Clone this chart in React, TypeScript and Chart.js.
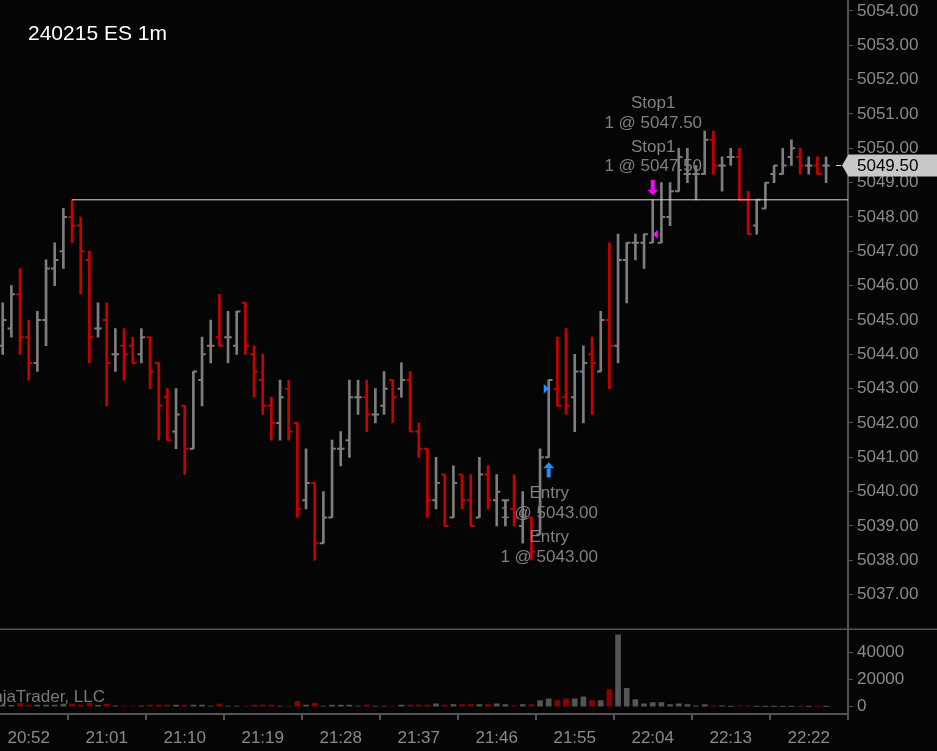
import React, { useEffect, useRef } from "react";
import { Chart, registerables } from "chart.js";

Chart.register(...registerables);

// ---------- DATA ----------
const opens = [5044.25,5044.75,5045.75,5044.50,5043.75,5045.00,5046.50,5047.00,5048.00,5047.75,
5046.75,5044.75,5045.00,5044.00,5044.25,5044.25,5044.00,5044.50,5043.75,5042.75,
5041.75,5042.50,5041.25,5043.25,5044.25,5044.50,5044.50,5044.25,5045.50,5044.00,
5043.25,5042.50,5042.00,5043.00,5042.00,5039.75,5040.25,5038.50,5039.25,5041.25,
5041.50,5042.75,5042.75,5042.25,5042.50,5043.25,5043.00,5043.25,5041.75,5041.25,
5039.75,5040.50,5039.25,5040.50,5039.75,5039.25,5040.50,5039.75,5039.75,5039.50,
5039.00,5039.25,5038.75,5041.00,5043.00,5042.75,5042.75,5043.50,5044.00,5043.50,
5045.00,5044.25,5046.75,5047.25,5047.25,5047.25,5047.25,5048.00,5048.75,5049.25,
5049.25,5049.25,5050.25,5049.50,5049.75,5049.75,5048.50,5047.75,5048.25,5049.25,
5049.25,5049.75,5049.75,5049.50,5049.50,5049.50];

const highs = [5045.50,5046.00,5046.50,5045.00,5045.25,5046.75,5047.25,5048.25,5048.50,5048.00,
5047.00,5045.50,5045.50,5044.75,5044.75,5044.50,5044.75,5044.50,5043.75,5043.00,
5043.00,5042.50,5043.50,5044.50,5045.00,5045.75,5045.25,5045.25,5045.50,5044.25,
5044.00,5042.75,5043.25,5043.25,5042.00,5041.25,5040.25,5040.00,5041.50,5041.75,
5043.25,5043.25,5043.25,5043.00,5043.50,5043.25,5043.75,5043.50,5042.00,5041.25,
5041.00,5040.50,5040.75,5040.50,5040.50,5041.00,5040.75,5040.50,5039.75,5040.50,
5040.00,5039.25,5041.25,5043.25,5044.50,5044.75,5044.00,5044.25,5044.50,5045.25,
5047.25,5047.50,5047.25,5047.50,5047.50,5048.50,5049.00,5049.00,5050.00,5050.00,
5049.50,5050.50,5050.50,5049.75,5050.00,5050.00,5048.75,5048.50,5049.00,5049.50,
5050.00,5050.25,5050.00,5049.75,5049.75,5049.75];

const lows = [5044.00,5044.50,5044.00,5043.25,5043.50,5044.25,5046.00,5046.50,5047.25,5045.75,
5043.75,5044.50,5042.50,5043.50,5043.25,5043.75,5043.75,5043.00,5041.50,5041.50,
5041.25,5040.50,5041.25,5042.50,5043.75,5044.25,5043.75,5044.00,5044.00,5042.75,
5042.25,5041.50,5041.50,5041.50,5039.25,5039.50,5038.00,5038.50,5039.25,5040.75,
5041.00,5042.25,5041.75,5042.00,5042.25,5042.00,5042.75,5041.75,5041.00,5039.25,
5039.50,5039.00,5039.25,5039.50,5039.00,5039.25,5039.50,5039.00,5039.00,5039.00,
5038.50,5038.00,5038.75,5041.00,5042.50,5042.25,5041.75,5042.00,5042.25,5043.50,
5043.00,5043.75,5045.50,5046.75,5046.50,5047.25,5047.25,5047.75,5048.75,5049.00,
5048.50,5049.25,5049.25,5048.75,5049.50,5048.50,5047.50,5047.50,5048.25,5049.00,
5049.25,5049.50,5049.25,5049.25,5049.25,5049.00];

const closes = [5045.00,5045.75,5044.50,5043.75,5045.00,5046.50,5046.75,5048.00,5047.75,5047.00,
5044.50,5044.75,5043.75,5044.00,5044.00,5043.75,5044.50,5043.50,5042.50,5041.50,
5042.25,5041.25,5043.50,5044.00,5044.25,5044.25,5044.50,5045.25,5044.25,5043.50,
5042.50,5042.00,5042.75,5041.75,5039.50,5040.25,5038.50,5039.25,5041.25,5041.25,
5042.75,5042.75,5042.25,5042.25,5043.00,5042.75,5043.25,5041.75,5041.25,5039.75,
5040.25,5039.00,5040.25,5039.75,5039.00,5040.50,5039.75,5040.00,5039.75,5039.25,
5039.25,5038.25,5041.00,5043.25,5042.50,5042.50,5043.50,5043.75,5043.75,5045.00,
5044.25,5046.75,5047.25,5047.25,5047.50,5047.50,5048.00,5048.75,5049.75,5049.25,
5049.25,5050.25,5049.50,5049.50,5049.75,5048.50,5047.50,5048.50,5049.00,5049.50,
5049.50,5050.00,5049.50,5049.50,5049.25,5049.50];

const volumes = [1000,1000,2500,1200,1200,1200,1200,2000,2000,1200,
2500,1000,2000,700,500,500,500,1200,1200,1200,
1200,1200,1200,1200,500,2000,500,500,500,1200,
1200,1200,500,500,3900,1200,2700,500,1200,1200,
1200,500,1200,500,500,500,1200,1200,1200,1200,
2200,1200,1500,1500,1500,1500,1500,2200,1500,700,
1500,1500,4450,5900,4450,5900,5900,7400,4450,4450,
12600,53300,13600,5200,2200,3000,3000,1500,2200,1500,
700,1500,700,700,250,700,700,250,250,250,
250,250,250,250,250,250];

const timeTickIndex = [3, 12, 21, 30, 39, 48, 57, 66, 75, 84, 93];
const timeTickLabels = ["20:52","21:01","21:10","21:19","21:28","21:37","21:46","21:55","22:04","22:13","22:22"];
const priceTicks = [5037,5038,5039,5040,5041,5042,5043,5044,5045,5046,5047,5048,5049,5050,5051,5052,5053,5054];
const volumeTicks = [0, 20000, 40000];

const levelPrice = 5048.5;
const levelStartIndex = 8;

const entryIndex = 63;
const entryPrice = 5043.0;
const entryLabels = ["Entry", "1 @ 5043.00"];
const stopIndex = 75;
const stopPrice = 5047.5;
const stopLabels = ["Stop1", "1 @ 5047.50"];

const chartTitle = "240215 ES 1m";
const copyright = "NinjaTrader, LLC";

// ---------- STYLE ----------
const FONT = "'Liberation Sans', Arial, sans-serif";
const BG = "#050505";
const AXIS = "#555555";
const LABEL = "#8a8a8a";
const UP = "#7e7e7e";
const DOWN = "#c80000";
const VOL_UP = "#555555";
const VOL_DOWN = "#8a0000";

const X_MIN = -0.3115;
const X_MAX = 97.53;

const noPad = (s: any) => {
  s.paddingLeft = 0;
  s.paddingRight = 0;
  s.paddingTop = 0;
  s.paddingBottom = 0;
};

export default function App() {
  const ref = useRef<HTMLCanvasElement | null>(null);

  useEffect(() => {
    document.body.style.margin = "0";
    document.body.style.background = BG;
    const canvas = ref.current;
    if (!canvas) return;

    const down = closes.map((c, i) => c < opens[i]);
    const barColors = down.map((d) => (d ? DOWN : UP));
    const volColors = down.map((d) => (d ? VOL_DOWN : VOL_UP));

    const overlay = {
      id: "overlay",
      beforeDraw(chart: any) {
        const c = chart.ctx;
        c.save();
        c.fillStyle = BG;
        c.fillRect(0, 0, chart.width, chart.height);
        c.restore();
      },
      afterDraw(chart: any) {
        const c = chart.ctx;
        const xs = chart.scales.x;
        const ys = chart.scales.y;
        const yv = chart.scales.yv;
        c.save();

        // divider between panels
        c.strokeStyle = AXIS;
        c.lineWidth = 1.5;
        c.beginPath();
        c.moveTo(0, yv.top);
        c.lineTo(chart.width, yv.top);
        c.stroke();

        // title
        c.fillStyle = "#ffffff";
        c.font = `21px ${FONT}`;
        c.textAlign = "left";
        c.textBaseline = "alphabetic";
        c.fillText(chartTitle, 28, 39.5);

        // copyright
        c.fillStyle = "#7a7a7a";
        c.font = `17px ${FONT}`;
        c.textAlign = "right";
        c.fillText(copyright, 105, 702);

        // stop marker
        const sx = xs.getPixelForValue(stopIndex);
        const sHigh = ys.getPixelForValue(highs[stopIndex]);
        const sy = ys.getPixelForValue(stopPrice);
        c.fillStyle = "#ff00ff";
        c.beginPath();
        c.rect(sx - 2, sHigh - 20, 4, 10);
        c.fill();
        c.beginPath();
        c.moveTo(sx - 5.5, sHigh - 10);
        c.lineTo(sx + 5.5, sHigh - 10);
        c.lineTo(sx, sHigh - 4.5);
        c.closePath();
        c.fill();
        c.beginPath();
        c.moveTo(sx, sy);
        c.lineTo(sx + 5, sy - 4.5);
        c.lineTo(sx + 5, sy + 4.5);
        c.closePath();
        c.fill();

        // entry marker
        const ex = xs.getPixelForValue(entryIndex);
        const eLow = ys.getPixelForValue(lows[entryIndex]);
        const ey = ys.getPixelForValue(entryPrice);
        c.fillStyle = "#1e90ff";
        c.beginPath();
        c.moveTo(ex - 5.5, eLow + 11);
        c.lineTo(ex + 5.5, eLow + 11);
        c.lineTo(ex, eLow + 5);
        c.closePath();
        c.fill();
        c.beginPath();
        c.rect(ex - 2, eLow + 11, 4, 9);
        c.fill();
        c.beginPath();
        c.moveTo(ex, ey);
        c.lineTo(ex - 5, ey - 5);
        c.lineTo(ex - 5, ey + 5);
        c.closePath();
        c.fill();

        // execution texts
        c.fillStyle = "#808080";
        c.font = `17px ${FONT}`;
        c.textAlign = "center";
        c.textBaseline = "middle";
        const stopOffsets = [-96, -76, -52, -33];
        stopOffsets.forEach((o, k) => c.fillText(stopLabels[k % 2], sx + 0.5, sHigh + o));
        const entryOffsets = [36, 56, 80, 100];
        entryOffsets.forEach((o, k) => c.fillText(entryLabels[k % 2], ex + 0.5, eLow + o));

        // last price marker
        const last = closes[closes.length - 1];
        const ly = ys.getPixelForValue(last);
        const axisX = ys.left;
        c.strokeStyle = "#e0e0e0";
        c.lineWidth = 1;
        c.beginPath();
        c.moveTo(axisX - 12, ly);
        c.lineTo(axisX - 7, ly);
        c.stroke();
        c.fillStyle = "#c8c8c8";
        c.beginPath();
        c.moveTo(axisX - 6, ly);
        c.lineTo(axisX + 0.5, ly - 11);
        c.lineTo(chart.width, ly - 11);
        c.lineTo(chart.width, ly + 11);
        c.lineTo(axisX + 0.5, ly + 11);
        c.closePath();
        c.fill();
        c.fillStyle = "#000000";
        c.textAlign = "left";
        c.fillText(last.toFixed(2), axisX + 9, ly + 0.5);

        c.restore();
      },
    };

    const chart = new Chart(canvas, {
      type: "bar",
      data: {
        datasets: [
          {
            type: "line",
            data: [
              { x: levelStartIndex, y: levelPrice },
              { x: X_MAX, y: levelPrice },
            ],
            borderColor: "#d8d8d8",
            borderWidth: 1,
            pointRadius: 0,
            xAxisID: "x",
            yAxisID: "y",
          } as any,
          {
            type: "line",
            data: opens.map((o, i) => ({ x: i - 0.2, y: o })),
            showLine: false,
            pointStyle: "line",
            pointRadius: 2,
            pointHoverRadius: 2,
            pointBorderWidth: 2,
            pointBorderColor: barColors,
            xAxisID: "x",
            yAxisID: "y",
          } as any,
          {
            type: "line",
            data: closes.map((c, i) => ({ x: i + 0.2, y: c })),
            showLine: false,
            pointStyle: "line",
            pointRadius: 2,
            pointHoverRadius: 2,
            pointBorderWidth: 2,
            pointBorderColor: barColors,
            xAxisID: "x",
            yAxisID: "y",
          } as any,
          {
            type: "bar",
            data: highs.map((h, i) => ({ x: i, y: [lows[i], h] })),
            backgroundColor: barColors,
            borderWidth: 0,
            barThickness: 2,
            grouped: false,
            xAxisID: "x",
            yAxisID: "y",
          } as any,
          {
            type: "bar",
            data: volumes.map((v, i) => ({ x: i, y: v })),
            backgroundColor: volColors,
            borderWidth: 0,
            barThickness: 5,
            grouped: false,
            xAxisID: "x",
            yAxisID: "yv",
          } as any,
        ],
      },
      options: {
        responsive: false,
        animation: false,
        devicePixelRatio: 1,
        events: [],
        layout: { padding: 0, autoPadding: false },
        plugins: {
          legend: { display: false },
          tooltip: { enabled: false },
          title: { display: false },
        },
        scales: {
          x: {
            type: "linear",
            position: "bottom",
            min: X_MIN,
            max: X_MAX,
            offset: false,
            grid: {
              display: true,
              drawOnChartArea: false,
              drawTicks: true,
              tickLength: 6,
              color: AXIS,
              lineWidth: 2,
            },
            border: { display: true, color: AXIS, width: 2 },
            ticks: {
              color: LABEL,
              font: { family: FONT, size: 17 },
              padding: 8,
              maxRotation: 0,
              autoSkip: false,
              callback: (_v: any, idx: number) => timeTickLabels[idx],
            },
            afterBuildTicks: (s: any) => {
              s.ticks = timeTickIndex.map((v) => ({ value: v }));
            },
            afterFit: (s: any) => {
              s.height = 37;
              noPad(s);
            },
          } as any,
          y: {
            type: "linear",
            position: "right",
            stack: "panes",
            stackWeight: 629.3,
            min: 5035.99,
            max: 5054.32,
            beginAtZero: false,
            grid: {
              display: true,
              drawOnChartArea: false,
              drawTicks: true,
              tickLength: 5,
              color: AXIS,
              lineWidth: 1,
            },
            border: { display: true, color: AXIS, width: 2 },
            ticks: {
              color: LABEL,
              font: { family: FONT, size: 17 },
              padding: 4,
              autoSkip: false,
              callback: (v: any) => Number(v).toFixed(2),
            },
            afterBuildTicks: (s: any) => {
              s.ticks = priceTicks.map((v) => ({ value: v }));
            },
            afterFit: (s: any) => {
              s.width = 89;
              noPad(s);
            },
          } as any,
          yv: {
            type: "linear",
            position: "right",
            stack: "panes",
            stackWeight: 84.7,
            min: -5407,
            max: 57333,
            beginAtZero: false,
            grid: {
              display: true,
              drawOnChartArea: false,
              drawTicks: true,
              tickLength: 5,
              color: AXIS,
              lineWidth: 1,
            },
            border: { display: true, color: AXIS, width: 2 },
            ticks: {
              color: LABEL,
              font: { family: FONT, size: 17 },
              padding: 4,
              autoSkip: false,
              callback: (v: any) => String(Math.round(Number(v))),
            },
            afterBuildTicks: (s: any) => {
              s.ticks = volumeTicks.map((v) => ({ value: v }));
            },
            afterFit: (s: any) => {
              s.width = 89;
              noPad(s);
            },
          } as any,
        },
      },
      plugins: [overlay],
    });

    return () => chart.destroy();
  }, []);

  return (
    <div style={{ width: 937, height: 751, background: BG }}>
      <canvas ref={ref} width={937} height={751} style={{ display: "block" }} />
    </div>
  );
}
